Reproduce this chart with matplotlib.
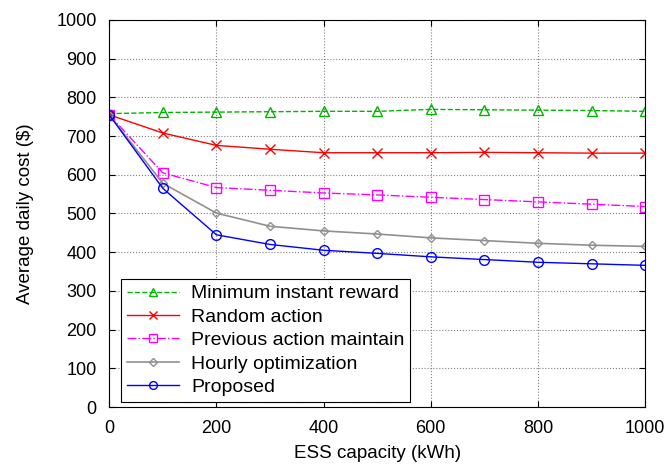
import matplotlib
matplotlib.use("Agg")
import matplotlib.pyplot as plt

plt.rcParams['font.family'] = ['Liberation Sans', 'DejaVu Sans']

# данные
capacity = [0, 100, 200, 300, 400, 500, 600, 700, 800, 900, 1000]
min_instant = [758, 761, 762, 763, 764, 764, 769, 768, 767, 766, 764]
random_action = [755, 708, 676, 666, 657, 657, 657, 658, 657, 656, 656]
prev_action = [755, 605, 567, 560, 553, 548, 542, 536, 530, 524, 518]
hourly_opt = [755, 578, 501, 467, 455, 447, 437, 430, 423, 418, 415]
proposed = [755, 565, 445, 420, 405, 397, 388, 381, 374, 370, 366]

fig = plt.figure(figsize=(6.7, 4.66), dpi=100)
ax = fig.add_axes([0.163, 0.1266, 0.8, 0.8305])

ax.plot(capacity, min_instant, color='#00b400', linestyle='--', marker='^',
        markersize=6.5, markerfacecolor='none', linewidth=1, label='Minimum instant reward')
ax.plot(capacity, random_action, color='#ff0000', linestyle='-', marker='x',
        markersize=7, linewidth=1, label='Random action')
ax.plot(capacity, prev_action, color='#ff00ff', linestyle='-.', marker='s',
        markersize=7, markerfacecolor='none', linewidth=1, label='Previous action maintain')
ax.plot(capacity, hourly_opt, color='#909090', linestyle='-', marker='D',
        markersize=4.5, markerfacecolor='none', linewidth=1.2, label='Hourly optimization')
ax.plot(capacity, proposed, color='#0000ff', linestyle='-', marker='o',
        markersize=7, markerfacecolor='none', linewidth=1, label='Proposed')

ax.set_xlim(0, 1000)
ax.set_ylim(0, 1000)
ax.set_xticks(range(0, 1001, 200))
ax.set_yticks(range(0, 1001, 100))
ax.tick_params(direction='in', top=True, right=True, labelsize=13, length=4, pad=9)
ax.grid(True, linestyle=':', color='#808080', linewidth=0.8)
ax.set_xlabel('ESS capacity (kWh)', fontsize=13.5, labelpad=6)
ax.set_ylabel('Average daily cost ($)', fontsize=13.5, labelpad=16)

leg = ax.legend(loc='lower left', bbox_to_anchor=(0.022, 0.013), fontsize=14,
                fancybox=False, edgecolor='black', framealpha=1, borderaxespad=0,
                handlelength=2.7, handletextpad=0.6, labelspacing=0.3, borderpad=0.3,
                markerscale=0.8)
leg.get_frame().set_linewidth(0.8)

fig.savefig('out.png', dpi=100)
